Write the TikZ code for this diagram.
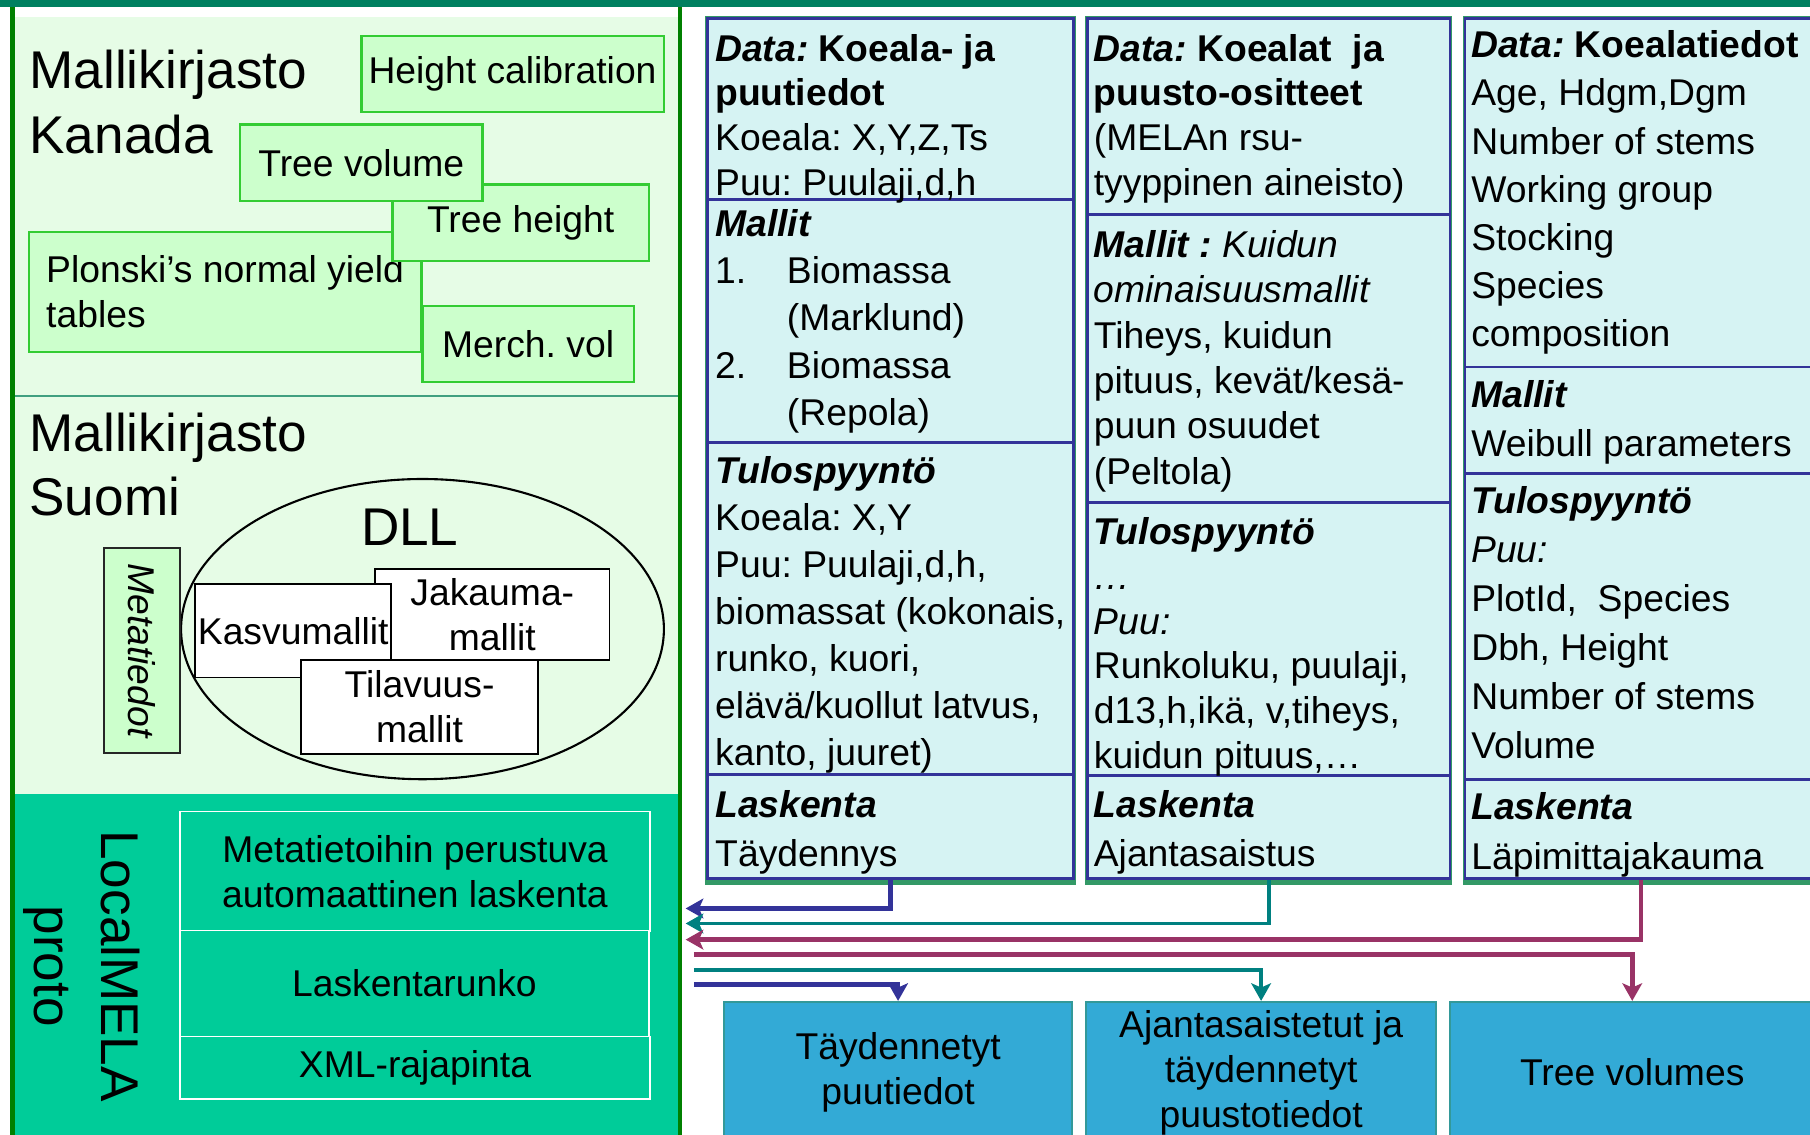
\documentclass[tikz,border=0pt]{standalone}
\usepackage{fontspec}
\setmainfont{Liberation Sans}
\usetikzlibrary{arrows.meta,positioning,shapes.geometric,fit}

\definecolor{bandgreen}{RGB}{0,128,96}
\definecolor{panelgreen}{RGB}{0,128,0}
\definecolor{palegreen}{RGB}{230,252,230}
\definecolor{modgreen}{RGB}{204,255,204}
\definecolor{modedge}{RGB}{51,204,51}
\definecolor{melagreen}{RGB}{0,204,153}
\definecolor{splitgreen}{RGB}{64,160,128}
\definecolor{colcyan}{RGB}{214,243,243}
\definecolor{colblue}{RGB}{51,51,153}
\definecolor{colgreen}{RGB}{51,153,102}
\definecolor{outblue}{RGB}{51,170,214}
\definecolor{outedge}{RGB}{51,153,153}
\definecolor{flowblue}{RGB}{51,51,153}
\definecolor{flowteal}{RGB}{0,128,128}
\definecolor{flowplum}{RGB}{153,51,102}

\newcommand\bigtext{\fontsize{15.1pt}{18.4pt}\selectfont}
\frenchspacing

\begin{document}
\begin{tikzpicture}[
		x=0.011543cm, y=-0.011543cm,
		txt/.style={inner sep=0pt, anchor=north west, align=left, font=\fontsize{10.6pt}{#1}\selectfont},
		txt/.default=13pt,
		bigtxt/.style={txt, font=\bigtext},
		boxsize/.style 2 args={minimum width=#1*0.011543cm, minimum height=#2*0.011543cm},
		boxtxt/.style={inner sep=0pt, align=center, font=\fontsize{10.6pt}{12.8pt}\selectfont},
		kbox/.style={boxtxt, draw=modedge, fill=modgreen, line width=0.7pt},
		dllbox/.style={boxtxt, draw=black, fill=white, line width=0.5pt},
		melabox/.style={boxtxt, draw=white, fill=melagreen, line width=0.5pt},
		colbox/.style={draw=colblue, fill=colcyan, line width=0.7pt, inner sep=0pt},
		sepline/.style={colblue, line width=0.8pt},
		outbox/.style={boxtxt, draw=outedge, fill=outblue, line width=0.6pt},
		flow/.style={line width=1.3pt, -{Stealth[length=5pt, width=5.6pt, inset=1.2pt]}}
	]
		\clip (0,0) rectangle (1568,983);
		\fill[palegreen] (11,15) rectangle (589,688);
		\fill[melagreen] (11,688) rectangle (589,995);
		\draw[splitgreen, line width=0.6pt] (11,343) -- (589,343);
		\draw[panelgreen, line width=1.3pt] (11,4) rectangle (589,998);
		\fill[bandgreen] (0,0) rectangle (1568,6);

		\node[bigtxt] (kanada) at (25,43) {Mallikirjasto\\Kanada};
		\node[kbox, boxsize={262}{66}] (hcal) at (444,64) {Height calibration};
		\node[kbox, align=left, boxsize={340}{104}] (plonski) at (195,253) {Plonski’s normal yield\\tables};
		\node[kbox, boxsize={183}{66}] (merch) at (457.5,298) {Merch. vol};
		\node[kbox, boxsize={222}{66}] (theight) at (451,193) {Tree height};
		\node[kbox, boxsize={210}{66}] (tvol) at (313,141) {Tree volume};

		\node[bigtxt] (suomi) at (25,357) {Mallikirjasto\\Suomi};
		\node[draw=black, fill=palegreen, ellipse, line width=0.6pt, minimum width=4.825cm, minimum height=3.0cm, inner sep=0pt] (dll) at (366,545) {};
		\node[font=\bigtext, inner sep=0pt] (dlltxt) at (355,457) {DLL};
		\node[kbox, draw=black!85, line width=0.6pt, boxsize={66}{177}] (metabox) at (123,563.5) {};
		\node[rotate=-90, inner sep=0pt, font=\fontsize{10.6pt}{12.8pt}\selectfont\itshape] (metatxt) at (metabox.center) {Metatiedot};
		\node[dllbox, boxsize={203}{79}] (jakauma) at (426.5,532.5) {Jakauma-\\mallit};
		\node[dllbox, boxsize={170}{81}] (kasvu) at (254,546.5) {Kasvumallit};
		\node[dllbox, boxsize={205}{81}] (tilavuus) at (363.5,612.5) {Tilavuus-\\mallit};

		\node[rotate=-90, inner sep=0pt, align=center, font=\fontsize{15.1pt}{19pt}\selectfont] (localmela) at (71,837) {LocalMELA\\proto};
		\node[melabox, boxsize={407}{104}] (autocalc) at (359.5,755) {Metatietoihin perustuva\\automaattinen laskenta};
		\node[melabox, boxsize={406}{92}] (runko) at (359,852) {Laskentarunko};
		\node[melabox, boxsize={407}{54}] (xmlapi) at (359.5,925) {XML-rajapinta};

		\foreach \xa/\xb/\n in {613/930/1, 942/1256/2, 1269/1574/3}{
			\fill[colgreen] (\xa-2,14) rectangle (\xb+2,767);
			\node[colbox, fit={(\xa,16) (\xb,761)}] (col\n) {};
		}
		\foreach \y in {173,383,671} \draw[sepline] (613,\y) -- (930,\y);
		\foreach \y in {186,435,672} \draw[sepline] (942,\y) -- (1256,\y);
		\foreach \y in {318,410,675} \draw[sepline] (1269,\y) -- (1574,\y);

		\node[txt=12.7pt] (c1data) at (619,29) {\textbf{\textit{Data:} Koeala- ja}\\\textbf{puutiedot}\\Koeala: X,Y,Z,Ts\\Puu: Puulaji,d,h};
		\node[txt=13.4pt] (c1mallit) at (619,181) {\textbf{\textit{Mallit}}\\\makebox[20.4pt][l]{1.}Biomassa\\\hspace*{20.4pt}(Marklund)\\\makebox[20.4pt][l]{2.}Biomassa\\\hspace*{20.4pt}(Repola)};
		\node[txt=13.37pt] (c1tulos) at (619,395) {\textbf{\textit{Tulospyyntö}}\\Koeala: X,Y\\Puu: Puulaji,d,h,\\biomassat (kokonais,\\runko, kuori,\\elävä/kuollut latvus,\\kanto, juuret)};
		\node[txt=14.1pt] (c1lask) at (619,684) {\textbf{\textit{Laskenta}}\\Täydennys};

		\node[txt=12.7pt] (c2data) at (947,29) {\textbf{\textit{Data:} Koealat\ \ ja}\\\textbf{puusto-ositteet}\\(MELAn rsu-\\tyyppinen aineisto)};
		\node[txt=12.9pt] (c2mallit) at (947,199) {\textbf{\textit{Mallit :}} \textit{Kuidun}\\\textit{ominaisuusmallit}\\Tiheys, kuidun\\pituus, kevät/kesä-\\puun osuudet\\(Peltola)};
		\node[txt=12.7pt] (c2tulos) at (947,448) {\textbf{\textit{Tulospyyntö}}\\\textit{…}\\\textit{Puu:}\\Runkoluku, puulaji,\\d13,h,ikä, v,tiheys,\\kuidun pituus,…};
		\node[txt=14.1pt] (c2lask) at (947,684) {\textbf{\textit{Laskenta}}\\Ajantasaistus};

		\node[txt=13.7pt] (c3data) at (1274,26) {\textbf{\textit{Data:} Koealatiedot}\\Age, Hdgm,Dgm\\Number of stems\\Working group\\Stocking\\Species\\composition};
		\node[txt=13.8pt] (c3mallit) at (1274,329) {\textbf{\textit{Mallit}}\\Weibull parameters};
		\node[txt=13.9pt] (c3tulos) at (1274,421) {\textbf{\textit{Tulospyyntö}}\\\textit{Puu:}\\PlotId,\ \ Species\\Dbh, Height\\Number of stems\\Volume};
		\node[txt=14.1pt] (c3lask) at (1274,686) {\textbf{\textit{Laskenta}}\\Läpimittajakauma};

		\node[outbox, boxsize={302}{122}] (out1) at (778,929) {Täydennetyt\\puutiedot};
		\node[outbox, boxsize={303}{122}] (out2) at (1092.5,929) {Ajantasaistetut ja\\täydennetyt\\puustotiedot};
		\node[outbox, boxsize={316}{122}] (out3) at (1414,929) {Tree volumes};

		\coordinate (back1) at (594,787);
		\coordinate (back2) at (594,800);
		\coordinate (back3) at (594,814);
		\coordinate (go3) at (601,827);
		\coordinate (go2) at (601,840);
		\coordinate (go1) at (601,853);
		\draw[flow, flowblue] (col1.south) |- (back1);
		\draw[flow, flowteal, line width=1.1pt] (col2.south) |- (back2);
		\draw[flow, flowplum] (col3.south) |- (back3);
		\draw[flow, flowplum] (go3) -| (out3.north);
		\draw[flow, flowteal, line width=1.1pt] (go2) -| (out2.north);
		\draw[flow, flowblue] (go1) -| (out1.north);
	\end{tikzpicture}
\end{document}
